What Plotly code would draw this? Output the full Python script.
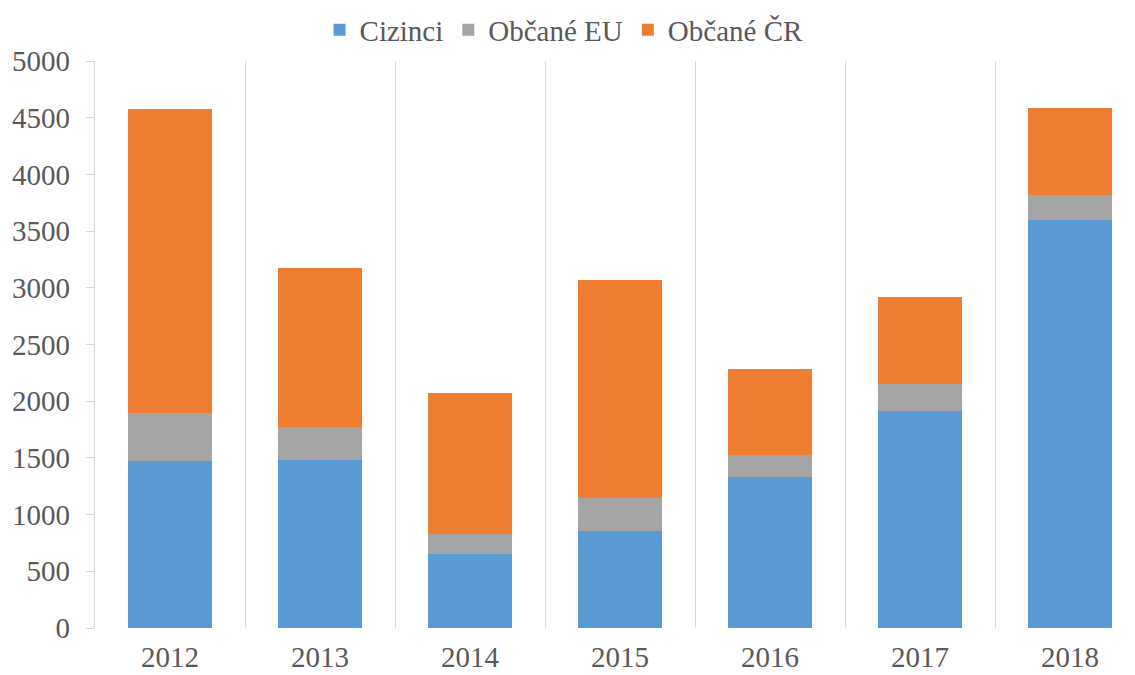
import plotly.graph_objects as go

years = ["2012", "2013", "2014", "2015", "2016", "2017", "2018"]
cizinci = [1470, 1479, 650, 852, 1335, 1911, 3594]
obcane_eu = [430, 297, 180, 298, 192, 239, 227]
obcane_cr = [2674, 1395, 1240, 1915, 761, 767, 762]

x = list(range(len(years)))
font_family = "Liberation Serif, Times New Roman, serif"
W, H = 1127, 667

fig = go.Figure()
fig.add_trace(go.Bar(x=x, y=cizinci, name="Cizinci", marker_color="#5b9bd5", width=0.56, marker_line_width=0))
fig.add_trace(go.Bar(x=x, y=obcane_eu, name="Občané EU", marker_color="#a5a5a5", width=0.56, marker_line_width=0))
fig.add_trace(go.Bar(x=x, y=obcane_cr, name="Občané ČR", marker_color="#ed7d31", width=0.56, marker_line_width=0))

fig.update_layout(
    barmode="stack",
    width=W, height=H,
    margin=dict(l=87, r=0, t=53, b=47, autoexpand=False),
    paper_bgcolor="white", plot_bgcolor="white",
    font=dict(family=font_family, color="#595959"),
    legend=dict(orientation="h", x=0.451, xanchor="center", yref="container", y=1 - 22/H,
                yanchor="middle", font=dict(family=font_family, size=29, color="#595959"),
                traceorder="normal", itemwidth=30),
    xaxis=dict(type="linear", range=[-0.5, -0.5 + 1040/150], tickvals=x, ticktext=years,
               showgrid=False, zeroline=False, showline=False, ticks="",
               ticklabelstandoff=9,
               tickfont=dict(family=font_family, size=29, color="#595959"),
               minor=dict(tick0=0.5, dtick=1, showgrid=True, gridcolor="#d9d9d9", gridwidth=1.3)),
    yaxis=dict(range=[0, 5000], dtick=500, showgrid=False, zeroline=False,
               showline=True, linecolor="#d9d9d9", linewidth=1.3,
               ticks="outside", ticklen=8, tickcolor="#d9d9d9", tickwidth=1.3,
               ticklabelstandoff=10,
               tickfont=dict(family=font_family, size=29, color="#595959")),
)

fig.write_html("out.html")
